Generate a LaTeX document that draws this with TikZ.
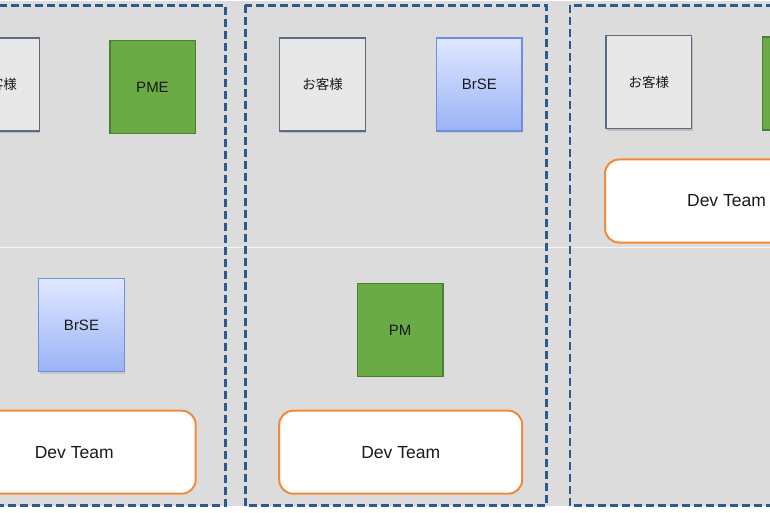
\documentclass[tikz,border=0pt]{standalone}
\usepackage{fontspec}
\setmainfont{Liberation Sans}
\newfontfamily\cjk{Noto Sans CJK JP}
\usetikzlibrary{shadows}
\definecolor{bggray}{HTML}{DCDCDC}
\definecolor{panelblue}{HTML}{2C5A8A}
\definecolor{custfill}{HTML}{E8E8E8}
\definecolor{custline}{HTML}{5B6B82}
\definecolor{pmgreen}{HTML}{6AAB46}
\definecolor{pmline}{HTML}{4E7E34}
\definecolor{brtop}{HTML}{E0E8FF}
\definecolor{brbot}{HTML}{9AB3F6}
\definecolor{brline}{HTML}{6B8FE0}
\definecolor{devline}{HTML}{F28A3C}
\definecolor{txt}{HTML}{1A1A1A}
\tikzset{
  panelbox/.style={draw=panelblue, line width=2.4pt, dash pattern=on 8pt off 4pt},
  rolebox/.style={rectangle, minimum width=85.5pt, minimum height=93pt, inner sep=0pt, text=txt, font=\fontsize{15}{18}\selectfont},
  custbox/.style={rolebox, draw=custline, fill=custfill, line width=1.3pt, font=\cjk\fontsize{13.5}{16}\selectfont,
    drop shadow={shadow xshift=1pt, shadow yshift=-2.5pt, opacity=0.25, fill=black!60}},
  greenbox/.style={rolebox, draw=pmline, fill=pmgreen, line width=1.5pt},
  brsebox/.style={rolebox, draw=brline, top color=brtop, bottom color=brbot, line width=1.2pt,
    drop shadow={shadow xshift=1pt, shadow yshift=-2pt, opacity=0.15, fill=black!60}},
  devbox/.style={rectangle, rounded corners=14pt, draw=devline, fill=white, line width=2pt,
    minimum width=243pt, minimum height=83pt, inner sep=0pt, text=txt, font=\fontsize{17.5}{20}\selectfont}
}
\begin{document}
\begin{tikzpicture}[x=1pt,y=-1pt]
\useasboundingbox (0,0) rectangle (770,513);
\clip (0,0) rectangle (770,513);
\fill[white] (0,0) rectangle (770,513);
\fill[bggray] (0,1.5) rectangle (770,506);
\draw[white!96!black, line width=1.5pt] (0,247.7) -- (770,247.7);
% panels
\draw[panelbox] (-80,5.5) rectangle (225.5,505.5);
\draw[panelbox] (245.3,5.5) rectangle (546.5,505.5);
\draw[panelbox] (570,5.5) rectangle (880,505.5);
% panel 1
\node[custbox] (cust1) at (-3.3,84.5) {お客様};
\node[greenbox] (pme) at (152.5,87) {PME};
\node[brsebox] (brse1) at (81.5,325) {BrSE};
\node[devbox] (dev1) at (74.2,452.2) {Dev Team};
% panel 2
\node[custbox] (cust2) at (322.5,84.5) {お客様};
\node[brsebox] (brse2) at (479.3,84.5) {BrSE};
\node[greenbox] (pm) at (400,330) {PM};
\node[devbox] (dev2) at (400.7,452.2) {Dev Team};
% panel 3
\node[custbox] (cust3) at (648.8,82) {お客様};
\node[greenbox] (green3) at (805,83.7) {};
\node[devbox] (dev3) at (726.5,201) {Dev Team};
\end{tikzpicture}
\end{document}
